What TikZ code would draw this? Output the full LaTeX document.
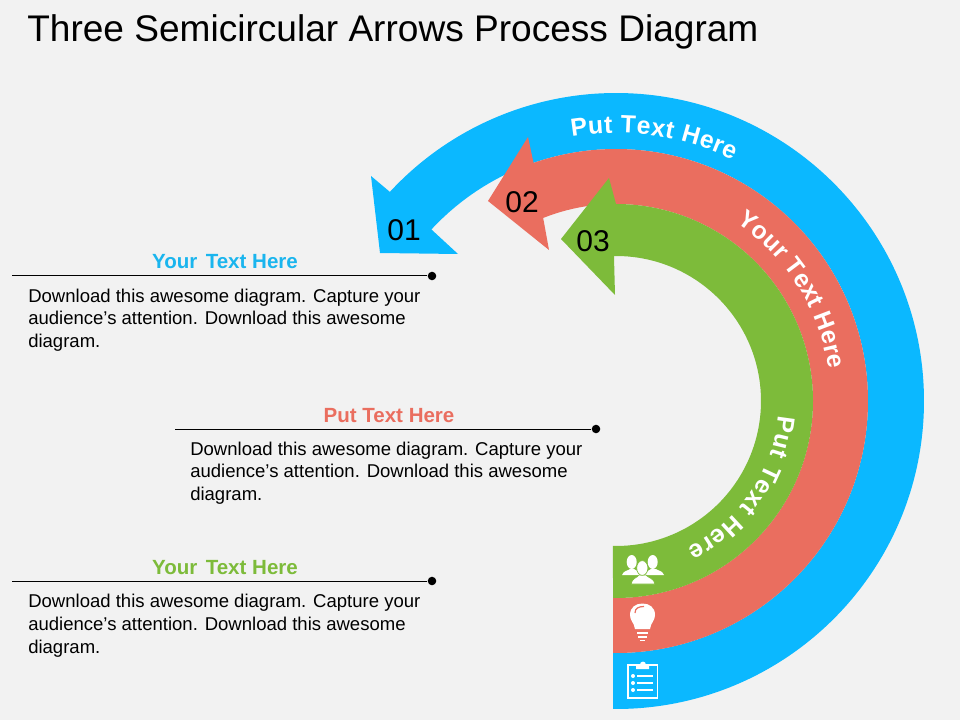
\documentclass[tikz,border=0pt]{standalone}
\usepackage{fontspec}
\setmainfont{Liberation Sans}
\usetikzlibrary{decorations.text}
\definecolor{bgc}{HTML}{F2F2F2}
\definecolor{bluec}{HTML}{0BB8FF}
\definecolor{redc}{HTML}{EA6E5F}
\definecolor{greenc}{HTML}{7DBB3A}
\definecolor{headblue}{HTML}{1AB5EE}
\newcommand{\arctext}[5]{% radius, start, end, text, size
  \path[decorate,decoration={text along path,text align={fit to path},
    text={|\bfseries\fontsize{#5}{#5}\selectfont\color{white}|#4}}]
    ([shift={(#2:#1*0.75pt)}]616,-401) arc[start angle=#2,end angle=#3,radius=#1*0.75pt];}
\tikzset{
  x=0.75pt,y=0.75pt,
  titletext/.style={anchor=base west,inner sep=0pt,font=\fontsize{27.8}{32}\selectfont},
  headtext/.style={anchor=base,inner sep=0pt,font=\bfseries\fontsize{15.4}{18}\selectfont},
  bodytext/.style={anchor=north west,inner sep=0pt,align=left,font=\fontsize{13.9}{17.1}\selectfont},
  numtext/.style={inner sep=0pt,font=\fontsize{22.5}{24}\selectfont},
  rule/.style={line width=0.75pt,black},
  dot/.style={circle,fill=black,inner sep=0pt,minimum size=6.4pt},
  iconline/.style={white,line width=1.4pt},
}
\begin{document}
\begin{tikzpicture}
\useasboundingbox (0,0) rectangle (960,-720);
\fill[bgc] (0,0) rectangle (960,-720);
\node[titletext] (title) at (27,-42) {Three Semicircular Arrows Process Diagram};

% blue arrow
\coordinate (bo) at ([shift={(-90.56:231pt)}]616,-401);
\coordinate (bi) at ([shift={(137.1:189pt)}]616,-401);
\fill[bluec] (bo) arc[start angle=-90.56,end angle=137.24,radius=231pt]
  -- (371,-176) -- (380,-253) -- (458,-254) -- (bi)
  arc[start angle=137.1,end angle=-90.68,radius=189pt] -- cycle;
% red arrow
\coordinate (ro) at ([shift={(-90.68:189pt)}]616,-401);
\coordinate (ri) at ([shift={(111.7:147.75pt)}]616,-401);
\fill[redc] (ro) arc[start angle=-90.68,end angle=109.1,radius=189pt]
  -- (528,-137) -- (488,-201) -- (549,-250) -- (ri)
  arc[start angle=111.7,end angle=-90.87,radius=147.75pt] -- cycle;
% green arrow
\coordinate (go) at ([shift={(-90.87:147.75pt)}]616,-401);
\coordinate (gi) at ([shift={(90.8:108.75pt)}]616,-401);
\fill[greenc] (go) arc[start angle=-90.87,end angle=90,radius=147.75pt]
  -- (609,-178) -- (561,-239) -- (615,-295) -- (gi)
  arc[start angle=90.8,end angle=-91.2,radius=108.75pt] -- cycle;

\node[numtext] (n1) at (404,-230) {01};
\node[numtext] (n2) at (522,-202) {02};
\node[numtext] (n3) at (593,-241) {03};

\arctext{268}{99.5}{64}{Put Text Here}{18.6}
\arctext{215}{56}{8.5}{Your Text Here}{18.6}
\arctext{163}{-5}{-64}{Put Text Here}{18.6}

% captions
\node[headtext,text=headblue] (h1) at (225,-269) {Your\hspace{2pt} Text Here};
\node[headtext,text=redc] (h2) at (389,-422) {Put Text Here};
\node[headtext,text=greenc] (h3) at (225,-574) {Your\hspace{2pt} Text Here};

\node[dot] (d1) at (432,-276) {};
\node[dot] (d2) at (596,-429) {};
\node[dot] (d3) at (432,-581) {};
\coordinate (l1) at (12,-276);
\coordinate (l2) at (175,-429);
\coordinate (l3) at (12,-581);
\draw[rule] (l1) -- (d1);
\draw[rule] (l2) -- (d2);
\draw[rule] (l3) -- (d3);

\node[bodytext] (b1) at (28,-288.5) {Download this awesome diagram. Capture your\\audience’s attention. Download this awesome\\diagram.};
\node[bodytext] (b2) at (190,-441.5) {Download this awesome diagram. Capture your\\audience’s attention. Download this awesome\\diagram.};
\node[bodytext] (b3) at (28,-594) {Download this awesome diagram. Capture your\\audience’s attention. Download this awesome\\diagram.};

% people icon
\fill[white] (622,-575) .. controls (624,-570) and (628,-571) .. (630,-569) -- (634,-569)
  .. controls (637,-571) and (640,-572) .. (640,-575) -- cycle;
\fill[white] (664,-575) .. controls (662,-570) and (658,-571) .. (656,-569) -- (651,-569)
  .. controls (648,-571) and (645,-572) .. (645,-575) -- cycle;
\fill[white,draw=greenc,line width=0.5pt] (631,-584) .. controls (632,-578) and (637,-578) .. (639,-575) -- (646,-575)
  .. controls (648,-578) and (654,-578) .. (655,-584) -- cycle;
\fill[white] (631.7,-562) ellipse[x radius=5,y radius=7];
\fill[white] (652.7,-562) ellipse[x radius=5,y radius=7];
\fill[white,draw=greenc,line width=0.5pt] (642.3,-568) ellipse[x radius=5.6,y radius=7.4];

% bulb icon
\fill[white] (635,-629) .. controls (634,-622) and (630,-621) .. (630,-615)
  .. controls (630,-607) and (636,-603.5) .. (642.5,-603.5)
  .. controls (649,-603.5) and (655,-607) .. (655,-615)
  .. controls (655,-621) and (651,-622) .. (650,-629) -- cycle;
\draw[redc,line width=0.9pt] (635,-613) .. controls (635,-608) and (639,-606.5) .. (644,-606.5);
\draw[iconline] (637,-633) -- (648,-633);
\draw[iconline] (638,-637) -- (647,-637);
\draw[iconline] (640,-640.5) -- (645,-640.5);

% clipboard icon
\draw[white,line width=1.3pt] (628,-665) rectangle (657.5,-698);
\fill[white] (636,-669) -- (636,-664.5) -- (640,-664.5) arc[start angle=180,end angle=0,radius=2.2pt] -- (649,-664.5) -- (649,-669) -- cycle;
\foreach \yy in {676,683,690}{
  \fill[white] (633,-\yy) circle[radius=1.5pt];
  \draw[iconline] (637,-\yy) -- (653,-\yy);
}
\end{tikzpicture}
\end{document}
